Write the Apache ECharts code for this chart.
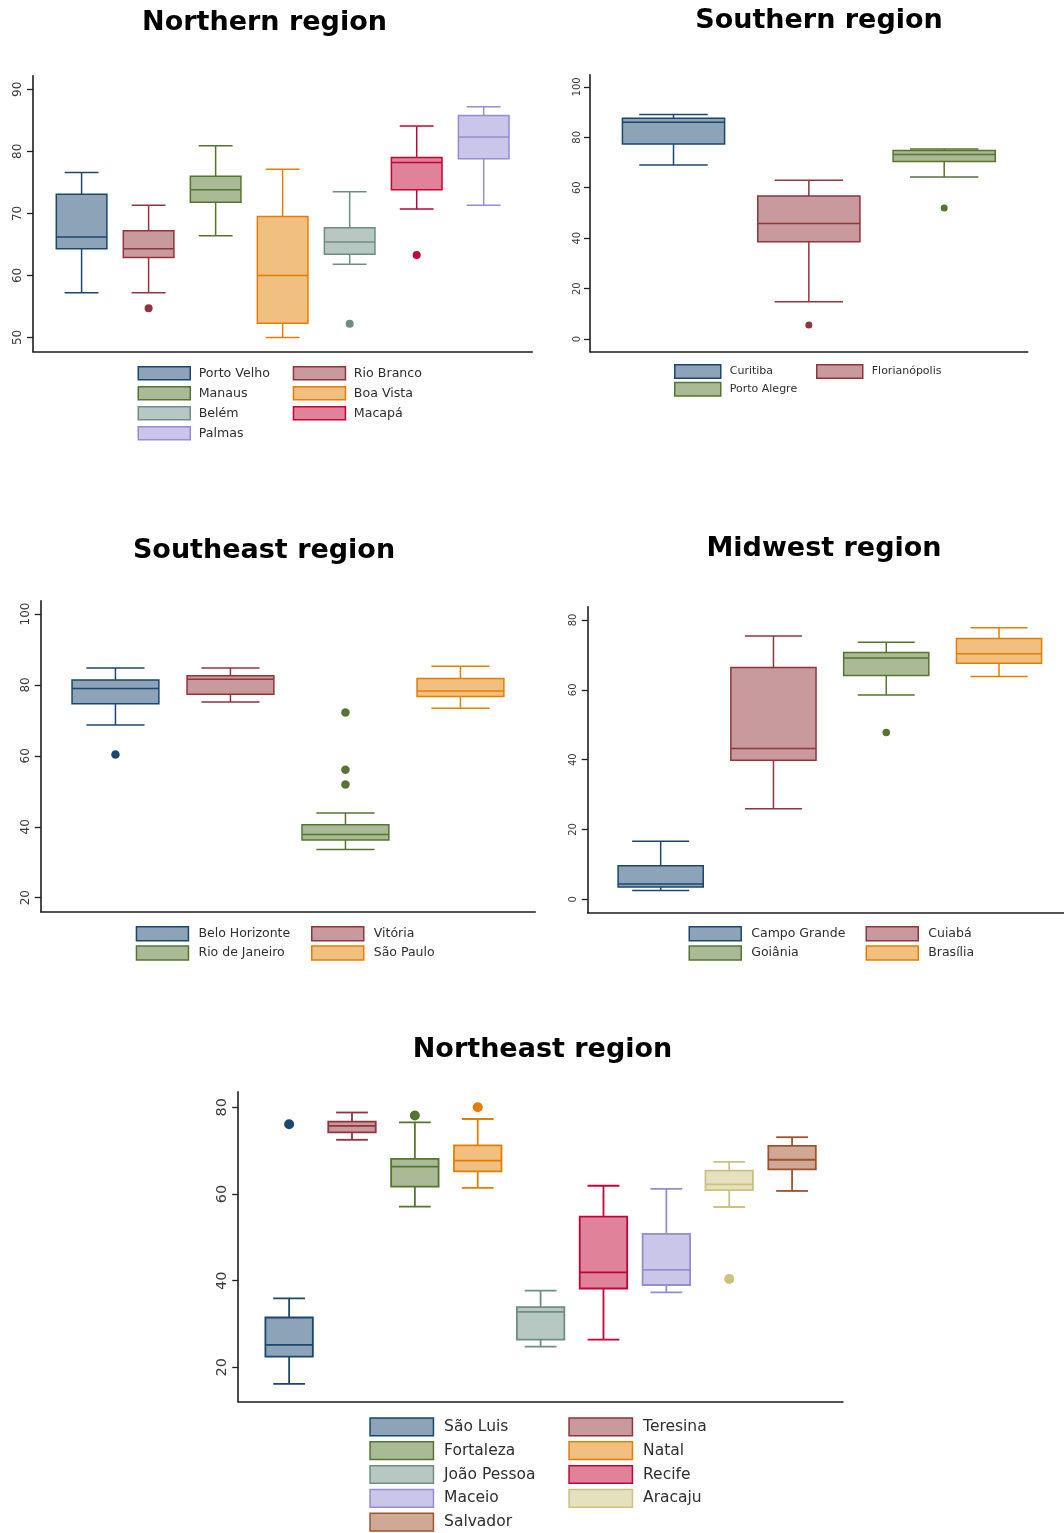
<!DOCTYPE html>
<html>
<head>
<meta charset="utf-8">
<script src="https://cdn.jsdelivr.net/npm/echarts@6/dist/echarts.min.js"></script>
<style>
  html, body { margin: 0; padding: 0; background: #fff; }
  #chart { width: 1064px; height: 1533px; }
</style>
</head>
<body>
<div id="chart"></div>
<script>
// Box statistics per city: [lower whisker, Q1, median, Q3, upper whisker]
// Outliers: [city index, value]

const northCities = ['Porto Velho', 'Rio Branco', 'Manaus', 'Boa Vista', 'Belém', 'Macapá', 'Palmas'];
const northStats = [
  [57.2, 64.3, 66.2, 73.1, 76.6],
  [57.2, 62.9, 64.3, 67.2, 71.3],
  [66.4, 71.8, 73.8, 76.0, 80.9],
  [50.0, 52.3, 60.0, 69.5, 77.1],
  [61.8, 63.4, 65.4, 67.7, 73.5],
  [70.7, 73.8, 78.2, 79.0, 84.1],
  [71.3, 78.8, 82.3, 85.8, 87.2]
];
const northOutliers = [[1, 54.7], [4, 52.2], [5, 63.3]];
const northTicks = [50, 60, 70, 80, 90];

const southCities = ['Curitiba', 'Florianópolis', 'Porto Alegre'];
const southStats = [
  [69.0, 77.3, 86.0, 87.5, 89.0],
  [14.8, 38.6, 45.8, 56.7, 63.0],
  [64.2, 70.4, 73.2, 74.8, 75.3]
];
const southOutliers = [[1, 5.6], [2, 52.0]];
const southTicks = [0, 20, 40, 60, 80, 100];

const southeastCities = ['Belo Horizonte', 'Vitória', 'Rio de Janeiro', 'São Paulo'];
const southeastStats = [
  [68.7, 74.7, 79.0, 81.4, 84.8],
  [75.2, 77.4, 81.6, 82.6, 84.8],
  [33.6, 36.3, 37.8, 40.6, 43.9],
  [73.4, 76.7, 78.3, 81.8, 85.3]
];
const southeastOutliers = [[0, 60.4], [2, 72.2], [2, 56.1], [2, 51.9]];
const southeastTicks = [20, 40, 60, 80, 100];

const midwestCities = ['Campo Grande', 'Cuiabá', 'Goiânia', 'Brasília'];
const midwestStats = [
  [2.5, 3.5, 4.4, 9.6, 16.6],
  [25.9, 39.8, 43.2, 66.4, 75.4],
  [58.5, 64.1, 69.1, 70.7, 73.6],
  [63.8, 67.6, 70.3, 74.7, 77.8]
];
const midwestOutliers = [[2, 47.8]];
const midwestTicks = [0, 20, 40, 60, 80];

const northeastCities = ['São Luis', 'Teresina', 'Fortaleza', 'Natal', 'João Pessoa', 'Recife', 'Maceio', 'Aracaju', 'Salvador'];
const northeastStats = [
  [16.2, 22.5, 25.2, 31.5, 35.9],
  [72.5, 74.2, 75.7, 76.7, 78.8],
  [57.1, 61.7, 66.3, 68.1, 76.5],
  [61.4, 65.2, 67.7, 71.2, 77.3],
  [24.8, 26.4, 32.8, 33.9, 37.7],
  [26.4, 38.2, 41.9, 54.8, 61.9],
  [37.3, 39.0, 42.5, 50.8, 61.2],
  [57.0, 60.9, 62.2, 65.4, 67.4],
  [60.7, 65.7, 67.9, 71.1, 73.1]
];
const northeastOutliers = [[0, 76.1], [2, 78.1], [3, 80.0], [7, 40.4]];
const northeastTicks = [20, 40, 60, 80];

// Line colours per box position; fills are the same hue at half strength
const lineColors = ['#1a476f', '#90353b', '#55752f', '#e37e00', '#6e8e84', '#c10534', '#938dd2', '#cac27e', '#a0522d'];
function halfTone(hex) {
  const n = parseInt(hex.slice(1), 16);
  const r = (n >> 16) & 255, g = (n >> 8) & 255, b = n & 255;
  const mix = v => Math.round((v + 255) / 2);
  return 'rgb(' + mix(r) + ',' + mix(g) + ',' + mix(b) + ')';
}

const FONT = 'DejaVu Sans';

// Panel layout (pixels) and axis ranges
const panels = [
  { title: 'Northern region', tx: 264.5, ty: 23, cities: northCities, stats: northStats, outliers: northOutliers, ticks: northTicks,
    left: 33, top: 75.7, width: 499.3, height: 276, xPad: 0.725, yMin: 47.7, yMax: 92.2,
    labelSize: 12, labelMargin: 8.7, outSize: 8, lw: 1.5,
    legend: { cols: [137.5, 292.7], top: 366, w: 52, h: 13, step: 20, font: 12.6, pad: 3.4 } },
  { title: 'Southern region', tx: 819, ty: 21, cities: southCities, stats: southStats, outliers: southOutliers, ticks: southTicks,
    left: 590, top: 74.7, width: 437.7, height: 277, xPad: 0.617, yMin: -5.0, yMax: 104.8,
    labelSize: 10, labelMargin: 7.6, outSize: 7, lw: 1.5,
    legend: { cols: [674, 816], top: 364, w: 46, h: 13.5, step: 17.7, font: 11, pad: 4 } },
  { title: 'Southeast region', tx: 264, ty: 551, cities: southeastCities, stats: southeastStats, outliers: southeastOutliers, ticks: southeastTicks,
    left: 40.7, top: 600.7, width: 494.5, height: 311, xPad: 0.65, yMin: 16.05, yMax: 103.75,
    labelSize: 12, labelMargin: 8.6, outSize: 8.5, lw: 1.5,
    legend: { cols: [135.7, 311], top: 926, w: 52, h: 14, step: 19.3, font: 12.5, pad: 5 } },
  { title: 'Midwest region', tx: 824, ty: 549, cities: midwestCities, stats: midwestStats, outliers: midwestOutliers, ticks: midwestTicks,
    left: 587.7, top: 606.7, width: 484.3, height: 306, xPad: 0.647, yMin: -3.84, yMax: 83.8,
    labelSize: 10, labelMargin: 9.3, outSize: 7.5, lw: 1.5,
    legend: { cols: [688.5, 865.5], top: 926, w: 52, h: 14, step: 19.3, font: 12.5, pad: 5 } },
  { title: 'Northeast region', tx: 542.5, ty: 1050, cities: northeastCities, stats: northeastStats, outliers: northeastOutliers, ticks: northeastTicks,
    left: 238.2, top: 1091.7, width: 604.8, height: 310, xPad: 0.81, yMin: 12.08, yMax: 83.6,
    labelSize: 14.5, labelMargin: 8, outSize: 10, lw: 1.8,
    legend: { cols: [369.3, 568.3], top: 1417.3, w: 63.4, h: 17.7, step: 23.8, font: 15.5, pad: 5.6 } }
];

const BOX_FRAC = 0.755;   // box width relative to spacing between boxes
const CAP_FRAC = 0.67;    // whisker cap width relative to box width
const ROW_EXTRA = 1.5;    // extra height legend rows get beyond the swatch

function boxRenderer(stroke, fill, lw) {
  return function (params, api) {
    const x = api.value(0);
    const lo = api.coord([x, api.value(1)]);
    const q1 = api.coord([x, api.value(2)]);
    const md = api.coord([x, api.value(3)]);
    const q3 = api.coord([x, api.value(4)]);
    const hi = api.coord([x, api.value(5)]);
    const half = api.size([1, 0])[0] * BOX_FRAC / 2;
    const cap = half * CAP_FRAC;
    const cx = lo[0];
    const ls = { stroke: stroke, lineWidth: lw, fill: null };
    return {
      type: 'group',
      children: [
        { type: 'line', shape: { x1: cx, y1: hi[1], x2: cx, y2: q3[1] }, style: ls },
        { type: 'line', shape: { x1: cx, y1: q1[1], x2: cx, y2: lo[1] }, style: ls },
        { type: 'line', shape: { x1: cx - cap, y1: hi[1], x2: cx + cap, y2: hi[1] }, style: ls },
        { type: 'line', shape: { x1: cx - cap, y1: lo[1], x2: cx + cap, y2: lo[1] }, style: ls },
        { type: 'rect', shape: { x: cx - half, y: q3[1], width: 2 * half, height: q1[1] - q3[1] },
          style: { fill: fill, stroke: stroke, lineWidth: lw } },
        { type: 'line', shape: { x1: cx - half, y1: md[1], x2: cx + half, y2: md[1] }, style: ls }
      ]
    };
  };
}

const grid = [], xAxis = [], yAxis = [], series = [], legend = [], graphic = [];
const axisColor = '#1e1e1e';

panels.forEach(function (p, pi) {
  const n = p.cities.length;
  grid.push({ left: p.left, top: p.top, width: p.width, height: p.height, outerBoundsMode: 'none' });
  xAxis.push({
    gridIndex: pi, type: 'value', min: 1 - p.xPad, max: n + p.xPad,
    axisLine: { show: true, onZero: false, lineStyle: { color: axisColor, width: 1.6 } },
    axisTick: { show: false }, axisLabel: { show: false }, splitLine: { show: false }
  });
  yAxis.push({
    gridIndex: pi, type: 'value', min: p.yMin, max: p.yMax,
    axisLine: { show: true, onZero: false, lineStyle: { color: axisColor, width: 1.6 } },
    axisTick: { show: true, length: 6, lineStyle: { color: axisColor, width: 1.3 }, customValues: p.ticks },
    axisLabel: { rotate: 90, customValues: p.ticks, fontSize: p.labelSize, fontFamily: FONT, color: '#3a3a3a', margin: p.labelMargin },
    splitLine: { show: false }
  });

  p.cities.forEach(function (city, k) {
    const stroke = lineColors[k];
    const fill = halfTone(stroke);
    series.push({
      type: 'custom', name: city, xAxisIndex: pi, yAxisIndex: pi,
      data: [[k + 1].concat(p.stats[k])],
      encode: { x: 0, y: [1, 2, 3, 4, 5] },
      itemStyle: { color: fill, borderColor: stroke },
      renderItem: boxRenderer(stroke, fill, p.lw),
      z: 2
    });
  });

  series.push({
    type: 'scatter', xAxisIndex: pi, yAxisIndex: pi, symbol: 'circle', symbolSize: p.outSize, z: 3,
    itemStyle: { opacity: 1 },
    data: p.outliers.map(function (o) {
      return { value: [o[0] + 1, o[1]], itemStyle: { color: lineColors[o[0]], opacity: 1 } };
    })
  });

  // two legend columns, filled row by row
  const L = p.legend;
  L.cols.forEach(function (colLeft, c) {
    const names = p.cities.filter(function (_, k) { return k % 2 === c; });
    legend.push({
      orient: 'vertical', left: colLeft, top: L.top, height: 220, padding: 0,
      itemWidth: L.w, itemHeight: L.h, itemGap: L.step - L.h - ROW_EXTRA,
      icon: 'rect', selectedMode: false,
      textStyle: { fontFamily: FONT, fontSize: L.font, color: '#2e2e2e', lineHeight: L.h, padding: [0, 0, 0, L.pad] },
      data: names.map(function (nm) {
        const k = p.cities.indexOf(nm);
        return { name: nm, itemStyle: { color: halfTone(lineColors[k]), borderColor: lineColors[k], borderWidth: 1.5 } };
      })
    });
  });

  graphic.push({
    type: 'text', x: p.tx, y: p.ty,
    style: { text: p.title, fontFamily: FONT, fontWeight: 'bold', fontSize: 27, fill: '#000', align: 'center', verticalAlign: 'middle' }
  });
});

const chart = echarts.init(document.getElementById('chart'), null, { renderer: 'canvas' });
chart.setOption({
  backgroundColor: '#ffffff',
  animation: false,
  grid: grid, xAxis: xAxis, yAxis: yAxis,
  legend: legend, series: series, graphic: graphic
});
</script>
</body>
</html>
